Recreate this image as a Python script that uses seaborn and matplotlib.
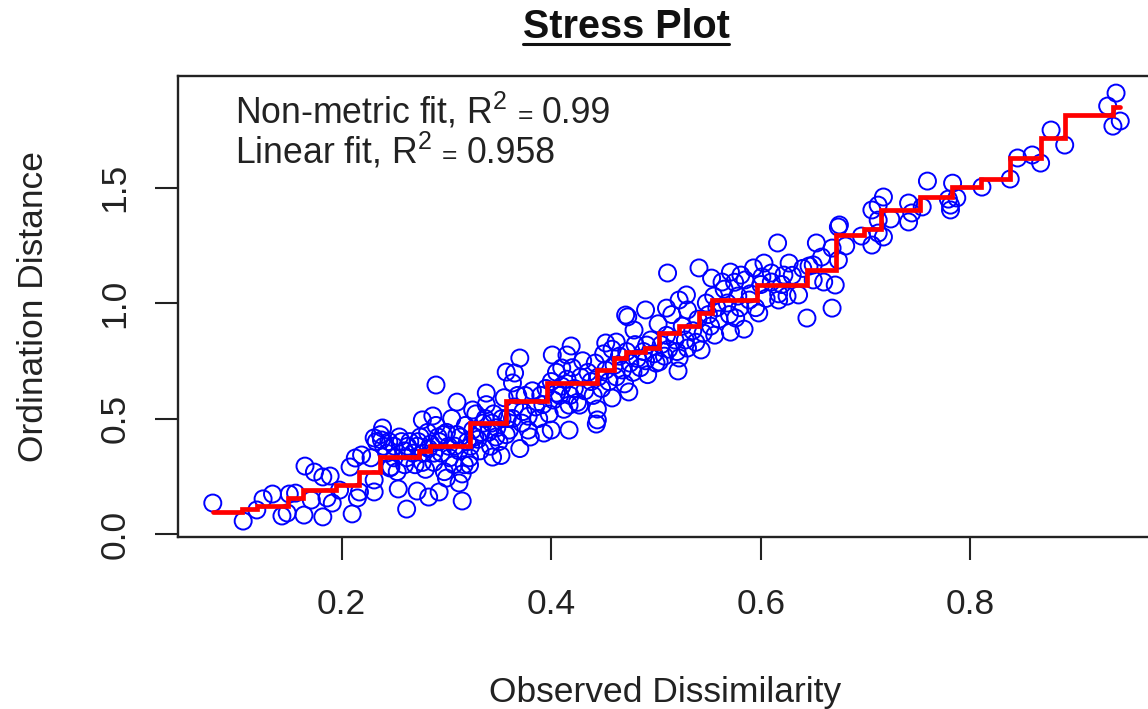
# stress plot, observed dissimilarity vs ordination distance
import matplotlib
matplotlib.use("Agg")
import matplotlib.pyplot as plt
from matplotlib.lines import Line2D
import seaborn as sns

# ----------------------------
# 1. Data
# ----------------------------
obs_low = [.077,.106,.119,.125,.134,.143,.148,.150,.156,.164,.165,.174,.182,.189,.171,.182,.191,.186,.198,.210,
           .215,.217,.208,.213,.219,.231,.231,.239,.231,.238,.246,.254,.262,.272,.283,.293,.300,.312,.315,.290,
           .310,.277,.287,.338,.325,.322,.344,.245,.250,.255,.260,.262,.265,.270,.272,.275,.278,.280,.282,.285,
           .288,.290,.292,.295,.298,.300,.302,.305,.307,.310,.312,.315,.318,.320,.322,.325,.328,.330,.332,.335,
           .338,.340,.342,.345,.348,.350,.352,.355,.358,.360,.365,.370,.372,.375,.378,.380]
ord_low = [.134,.056,.104,.152,.173,.078,.091,.173,.177,.082,.294,.268,.247,.251,.147,.074,.134,.156,.190,.087,
           .156,.182,.290,.329,.342,.182,.234,.459,.416,.407,.286,.195,.108,.186,.160,.182,.242,.221,.143,.645,
           .571,.494,.511,.610,.537,.299,.333,.400,.380,.420,.360,.330,.400,.300,.380,.420,.350,.280,.440,.390,
           .310,.470,.420,.350,.270,.440,.380,.500,.300,.430,.360,.260,.470,.400,.330,.450,.520,.410,.360,.480,
           .560,.440,.380,.520,.460,.400,.340,.590,.500,.450,.550,.370,.480,.600,.510,.420]

obs_dense = [.228,.233,.237,.240,.243,.247,.250,.253,.257,.260,.263,.268,.273,.277,.283,.288,.293,.297,.303,.308,
             .313,.317,.323,.327,.333,.337,.343,.347,.353,.357,.363,.368,.373,.378]
ord_dense = [.330,.400,.430,.380,.350,.290,.330,.270,.400,.300,.380,.350,.400,.310,.370,.350,.400,.430,.330,.380,
             .420,.300,.380,.420,.440,.500,.480,.420,.500,.430,.500,.600,.530,.450]

obs_mid = [.370,.357,.365,.363,.401,.419,.415,.410,.444,.427,.417,.405,.458,.474,.444,.452,.462,.471,.473,.490,
           .479,.491,.521,.503,.393,.400,.417,.443,.382,.385,.388,.390,.392,.395,.398,.400,.402,.405,.408,.410,
           .412,.415,.418,.420,.422,.425,.428,.430,.432,.435,.438,.440,.442,.445,.448,.450,.452,.455,.458,.460,
           .462,.465,.468,.470,.472,.475,.478,.480,.482,.485,.488,.490,.492,.495,.498,.500,.502,.505,.508,.510,
           .512,.515,.518,.520]
ord_mid = [.762,.701,.697,.654,.775,.814,.775,.719,.541,.558,.558,.610,.589,.615,.494,.827,.831,.948,.940,.970,
           .883,.818,.706,.745,.437,.450,.450,.476,.620,.550,.500,.600,.560,.630,.520,.660,.580,.700,.600,.640,
           .540,.670,.600,.720,.630,.570,.680,.750,.620,.700,.660,.600,.740,.680,.630,.780,.710,.660,.800,.730,
           .680,.770,.710,.650,.790,.740,.700,.820,.760,.720,.790,.750,.690,.840,.780,.740,.910,.820,.770,.860,
           .800,.950,.840,.790]

obs_high = [.511,.541,.616,.653,.644,.636,.668,.627,.603,.593,.571,.581,.553,.563,.529,.522,.510,.543,.530,.522,
            .571,.584,.576,.556,.598,.617,.617,.589,.601,.610,.660,.671,.650,.658,.674,.668,.525,.528,.530,.535,
            .538,.540,.545,.548,.550,.552,.555,.558,.560,.565,.568,.570,.575,.578,.580,.585,.590,.595,.600,.605,
            .610,.620,.625,.630,.640,.650]
ord_high = [1.130,1.152,1.260,1.260,.935,1.035,.978,1.173,1.173,1.152,1.134,1.121,1.108,1.091,1.035,1.013,.978,.797,.805,.762,
            .874,.887,.935,.861,.957,1.013,1.040,1.013,1.113,1.091,1.091,1.078,1.165,1.199,1.329,1.238,.900,.840,.970,.880,
            .830,.930,.870,1.000,.950,.900,1.030,.980,.930,1.060,1.000,.950,1.090,1.030,.980,1.100,1.040,.980,1.080,1.020,
            1.130,1.080,1.030,1.120,1.150,1.100]

obs_top = [.939,.931,.943,.936,.890,.877,.867,.859,.845,.838,.811,.783,.759,.779,.787,.781,.781,.754,.741,.744,
           .741,.717,.712,.706,.724,.712,.706,.717,.712,.696,.675,.681,.646,.674,.622]
ord_top = [1.909,1.853,1.788,1.766,1.684,1.749,1.606,1.641,1.628,1.537,1.502,1.519,1.528,1.450,1.455,1.403,1.424,1.416,1.433,1.390,
           1.351,1.459,1.424,1.403,1.364,1.359,1.251,1.286,1.303,1.290,1.338,1.247,1.160,1.186,1.121]

observed = obs_low + obs_dense + obs_mid + obs_high + obs_top
ordination = ord_low + ord_dense + ord_mid + ord_high + ord_top

# monotone (non-metric) fit, read as a stair line
step_obs = [.077,.105,.119,.149,.163,.195,.217,.230,.237,.274,.284,.322,.357,.396,.444,.460,.471,.489,
            .503,.522,.541,.553,.596,.644,.672,.698,.715,.752,.782,.810,.838,.867,.890,.936,.943]
step_ord = [.096,.110,.123,.156,.190,.212,.268,.268,.333,.360,.381,.480,.575,.654,.710,.762,.790,.805,
            .870,.900,.956,1.013,1.078,1.143,1.294,1.320,1.403,1.459,1.502,1.537,1.628,1.714,1.814,1.850,1.850]

x_ticks = [0.2, 0.4, 0.6, 0.8]
y_ticks = [0.0, 0.5, 1.0, 1.5]
fit_lines = [("Non-metric fit, R$^{2}$", "0.99"), ("Linear fit, R$^{2}$", "0.958")]

# ----------------------------
# 2. Style
# ----------------------------
sns.set_theme(style="ticks")
plt.rcParams["font.family"] = ["Liberation Sans", "DejaVu Sans"]
plt.rcParams["mathtext.fontset"] = "custom"
plt.rcParams["mathtext.rm"] = "Liberation Sans"
plt.rcParams["mathtext.default"] = "regular"

W, H = 1148, 709
fig = plt.figure(figsize=(W / 100, H / 100), dpi=100)
ax = fig.add_axes([178 / W, (H - 537) / H, (1152 - 178) / W, (537 - 76) / H])

# ----------------------------
# 3. Plot
# ----------------------------
sns.scatterplot(x=observed, y=ordination, ax=ax, s=150, marker="o",
                facecolors="none", edgecolors="blue", linewidth=1.4, zorder=2)
sns.lineplot(x=step_obs, y=step_ord, ax=ax, color="red", linewidth=3.4, estimator=None,
             sort=False, drawstyle="steps-post", zorder=3, solid_joinstyle="miter")

ax.set_xlim(0.0438, 0.9733)
ax.set_ylim(-0.013, 1.983)
ax.set_xticks(x_ticks, [f"{v:.1f}" for v in x_ticks])
ax.set_yticks(y_ticks, [f"{v:.1f}" for v in y_ticks])
ax.tick_params(axis="both", length=16.5, width=1.5, color="#222222", labelsize=25.5, labelcolor="#222222")
ax.tick_params(axis="x", pad=20.5)
ax.tick_params(axis="y", pad=17)
for label in ax.get_yticklabels():
    label.set_rotation(90)
    label.set_va("center")
for side in ax.spines:
    ax.spines[side].set_linewidth(1.7)
    ax.spines[side].set_color("#222222")

ax.set_xlabel("Observed Dissimilarity", fontsize=25.5, color="#222222", labelpad=39)
ax.set_ylabel("Ordination Distance", fontsize=25.5, color="#222222", labelpad=35)

# ----------------------------
# 4. Title and fit labels
# ----------------------------
fig.canvas.draw()
renderer = fig.canvas.get_renderer()

title = fig.text(626 / W, 1 - 38 / H, "Stress Plot", fontsize=28.5, fontweight="bold",
                 ha="center", va="baseline", color="#111111")
box = title.get_window_extent(renderer)
fig.add_artist(Line2D([box.x0 / W, box.x1 / W], [1 - 44 / H, 1 - 44 / H], color="#111111", linewidth=2.2))

for (head, value), base in zip(fit_lines, [123, 163]):
    t = fig.text(235 / W, 1 - base / H, head, fontsize=25.7, ha="left", va="baseline", color="#222222")
    x1 = t.get_window_extent(renderer).x1 + 10
    eq = fig.text(x1 / W, 1 - base / H, "=", fontsize=19, ha="left", va="baseline", color="#222222")
    x2 = eq.get_window_extent(renderer).x1 + 9
    fig.text(x2 / W, 1 - base / H, value, fontsize=25.7, ha="left", va="baseline", color="#222222")

plt.savefig("out.png", dpi=100)
plt.close()
